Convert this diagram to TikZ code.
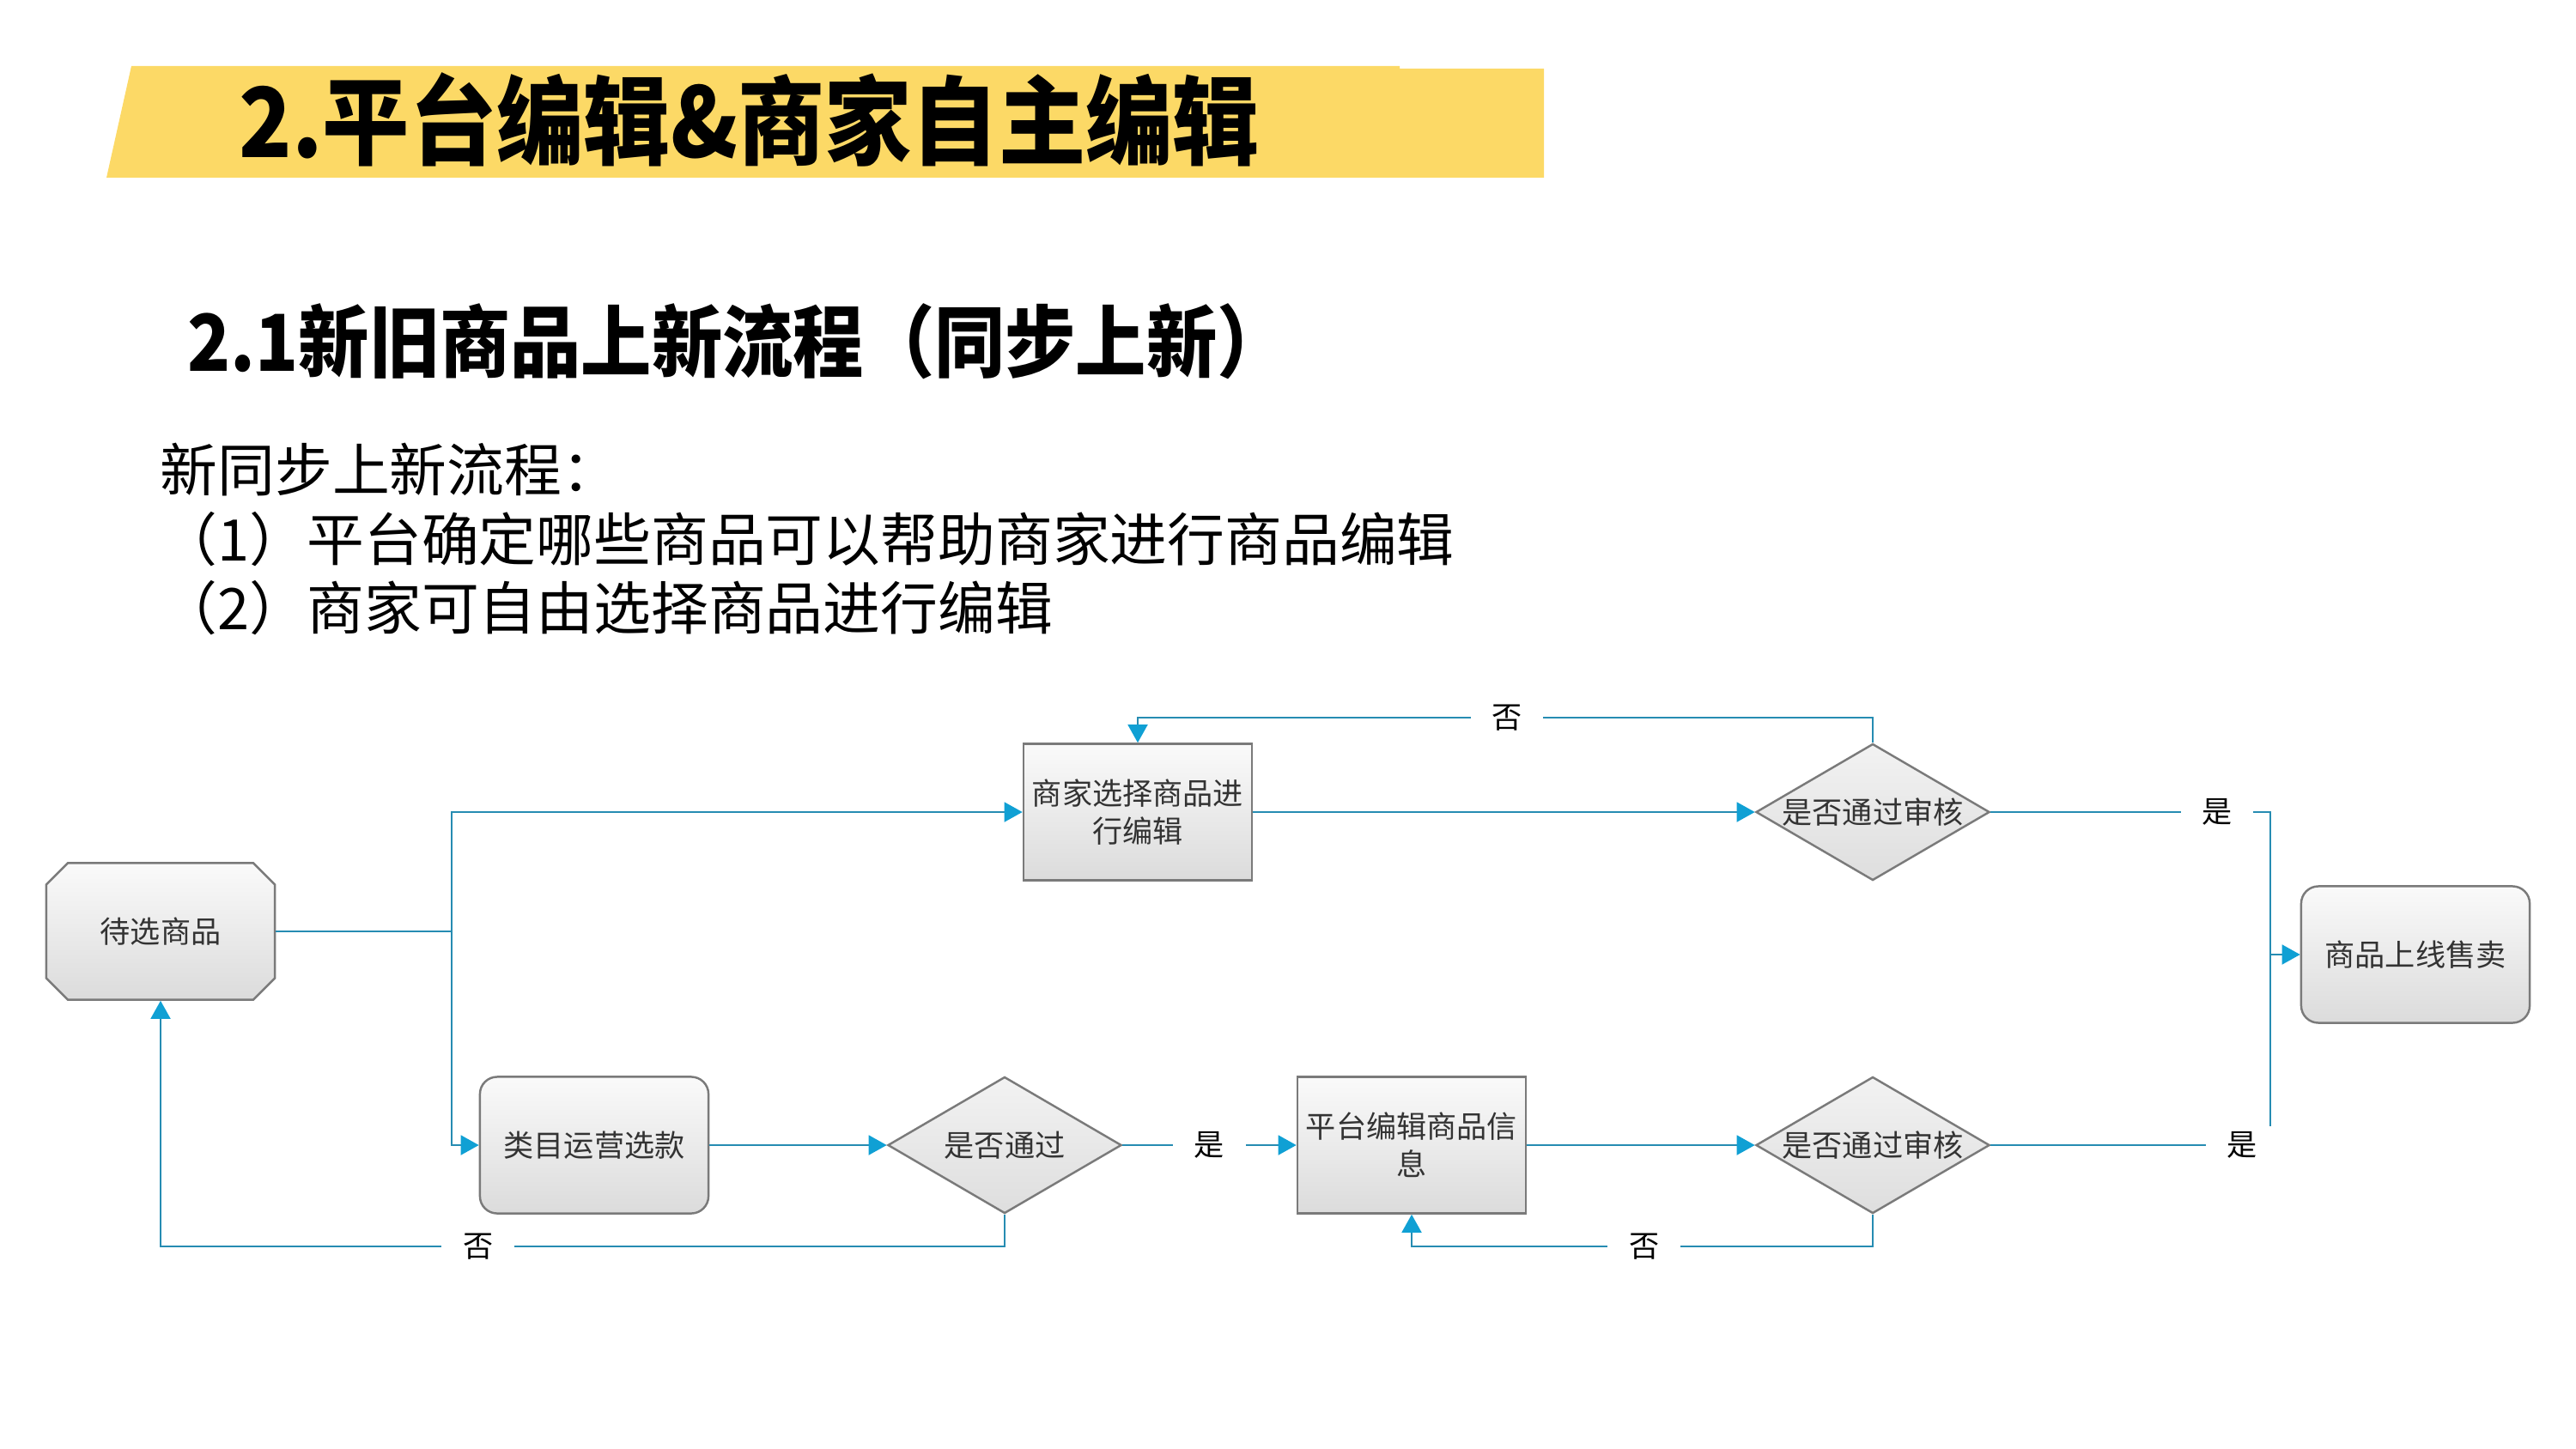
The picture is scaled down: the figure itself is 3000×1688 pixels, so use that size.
\documentclass[tikz,border=0pt]{standalone}
\usepackage{fontspec}
\setmainfont{Noto Sans CJK SC}
\newfontfamily\headfont[FakeStretch=0.9]{Noto Sans CJK SC}
\usepackage{xcolor}
\usepackage{tikz}
\usetikzlibrary{arrows.meta,shapes.geometric,shapes.misc}
\definecolor{bannerY}{RGB}{252,217,102}
\definecolor{flowB}{RGB}{38,140,178}
\definecolor{tipB}{RGB}{16,160,212}
\definecolor{edgeG}{RGB}{122,122,122}
\newcommand{\dlab}[1]{\makebox[0pt]{#1}}
\tikzset{
  procbox/.style={draw=edgeG, line width=0.7pt, top color=black!2,
    bottom color=black!14, align=center, text=black!80, inner sep=2pt,
    font=\fontsize{10}{12.5}\selectfont, minimum width=2.66cm,
    minimum height=1.59cm},
  startbox/.style={procbox, chamfered rectangle,
    chamfered rectangle xsep=0.1cm, chamfered rectangle ysep=0.15cm},
  roundbox/.style={procbox, rounded corners=0.2cm},
  decide/.style={procbox, diamond, inner sep=0pt, minimum width=2.72cm,
    top color=black!5, bottom color=black!13},
  lbl/.style={fill=white, inner xsep=7pt, inner ysep=2pt, text=black,
    font=\fontsize{10}{12}\selectfont},
  line/.style={draw=flowB, line width=0.7pt},
  arr/.style={line, -{Triangle[length=6pt,width=6.5pt,color=tipB]}}
}

\begin{document}
\begin{tikzpicture}[x=0.01cm, y=-0.01cm]
\useasboundingbox (0,0) rectangle (3000,1688);

\fill[bannerY] (153,77) -- (1630,77) -- (1630,80) -- (1798,80) -- (1798,207)
  -- (124,207) -- cycle;
\node[anchor=west, inner sep=0pt, font=\headfont\bfseries\fontsize{32}{36}\selectfont]
  (title) at (278,139) {2.平台编辑\&商家自主编辑};
\node[anchor=west, inner sep=0pt, font=\headfont\bfseries\fontsize{26}{30}\selectfont]
  (subtitle) at (218,398) {2.1新旧商品上新流程（同步上新）};
\node[anchor=west, inner sep=0pt, font=\fontsize{19}{22}\selectfont]
  (intro) at (186,547) {新同步上新流程：};
\node[anchor=west, inner sep=0pt, font=\fontsize{19}{22}\selectfont]
  (step1) at (186,628) {（1）平台确定哪些商品可以帮助商家进行商品编辑};
\node[anchor=west, inner sep=0pt, font=\fontsize{19}{22}\selectfont]
  (step2) at (186,708) {（2）商家可自由选择商品进行编辑};

\node[startbox] (dai) at (187,1085) {待选商品};
\node[roundbox] (leimu) at (692,1334) {类目运营选款};
\node[decide] (pass) at (1170,1334) {\dlab{是否通过}};
\node[procbox] (pedit) at (1644,1334) {平台编辑商品信\\息};
\node[decide] (shen2) at (2181,1334) {\dlab{是否通过审核}};
\node[procbox] (medit) at (1325,946) {商家选择商品进\\行编辑};
\node[decide] (shen1) at (2181,946) {\dlab{是否通过审核}};
\node[roundbox] (online) at (2813,1112) {商品上线售卖};

\coordinate (split) at (526,1085);
\coordinate (merge) at (2644,1112);
\coordinate (topy) at (0,836);
\coordinate (lowy) at (0,1452);

\draw[line] (dai.east) -- (split);
\draw[arr] (split) |- (medit.west);
\draw[arr] (split) |- (leimu.west);
\draw[arr] (leimu) -- (pass);
\draw[arr] (pass) -- node[lbl] {是} (pedit);
\draw[arr] (pass.south) -- (pass.south |- lowy) -| node[lbl, pos=0.312] {否} (dai.south);
\draw[arr] (pedit) -- (shen2);
\draw[arr] (shen2.south) -- (shen2.south |- lowy) -| node[lbl, pos=0.248] {否} (pedit.south);
\draw[arr] (medit) -- (shen1);
\draw[arr] (shen1.north) -- (shen1.north |- topy) -| node[lbl, pos=0.249] {否} (medit.north);
\draw[line] (shen1.east) -| node[lbl, pos=0.405] {是} (merge);
\draw[line] (shen2.east) -| node[lbl, pos=0.449] {是} (merge);
\draw[arr] (merge) -- (online.west);
\end{tikzpicture}
\end{document}
